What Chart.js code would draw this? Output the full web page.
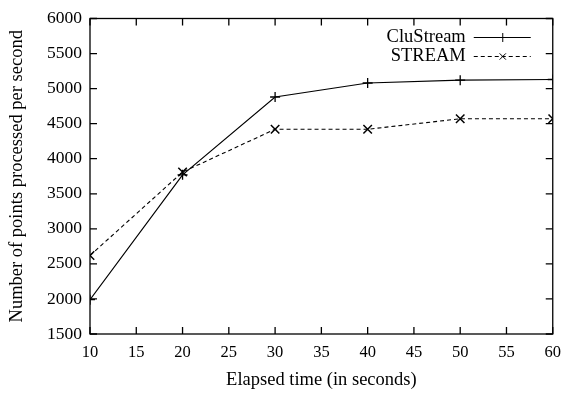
<!DOCTYPE html>
<html>
<head>
<meta charset="utf-8">
<script src="https://cdn.jsdelivr.net/npm/chart.js@4"></script>
<style>
  html, body { margin: 0; padding: 0; background: #fff; }
  #wrap { width: 570px; height: 394px; }
</style>
</head>
<body>
<div id="wrap"><canvas id="lineChart" width="570" height="394"></canvas></div>
<script>
const elapsed = [10, 20, 30, 40, 50, 60];
const cluStream = [1990, 3770, 4880, 5080, 5120, 5130];
const stream = [2620, 3810, 4420, 4420, 4570, 4570];
const seriesNames = ['CluStream', 'STREAM'];

const FONT = "'Liberation Serif', 'Times New Roman', serif";

// gnuplot style: inward ticks on all four sides + frame + key
const frameAndKey = {
    id: 'frameAndKey',
    afterDatasetsDraw(chart) {
        const { ctx, chartArea: a, scales } = chart;
        ctx.save();
        ctx.strokeStyle = '#000';
        ctx.lineWidth = 1.3;
        ctx.setLineDash([]);
        ctx.strokeRect(a.left, a.top, a.right - a.left, a.bottom - a.top);
        const tl = 7;
        scales.x.ticks.forEach(t => {
            const px = scales.x.getPixelForValue(t.value);
            ctx.beginPath();
            ctx.moveTo(px, a.bottom); ctx.lineTo(px, a.bottom - tl);
            ctx.moveTo(px, a.top); ctx.lineTo(px, a.top + tl);
            ctx.stroke();
        });
        scales.y.ticks.forEach(t => {
            const py = scales.y.getPixelForValue(t.value);
            ctx.beginPath();
            ctx.moveTo(a.left, py); ctx.lineTo(a.left + tl, py);
            ctx.moveTo(a.right, py); ctx.lineTo(a.right - tl, py);
            ctx.stroke();
        });

        // key
        ctx.font = '18.5px ' + FONT;
        ctx.fillStyle = '#000';
        ctx.textAlign = 'right';
        ctx.textBaseline = 'middle';
        const rows = [a.top + 19, a.top + 38];
        chart.data.datasets.forEach((ds, i) => {
            const y = rows[i];
            ctx.fillText(ds.label, a.right - 87, y);
            ctx.lineWidth = 1;
            ctx.setLineDash(ds.borderDash || []);
            ctx.beginPath();
            ctx.moveTo(a.right - 79, y); ctx.lineTo(a.right - 22, y);
            ctx.stroke();
            ctx.setLineDash([]);
            const mx = a.right - 50, r = 4.5;
            ctx.beginPath();
            if (ds.pointStyle === 'cross') {
                ctx.moveTo(mx, y - r); ctx.lineTo(mx, y + r);
                ctx.moveTo(mx - r, y); ctx.lineTo(mx + r, y);
            } else {
                ctx.moveTo(mx - r * 0.7, y - r * 0.7); ctx.lineTo(mx + r * 0.7, y + r * 0.7);
                ctx.moveTo(mx - r * 0.7, y + r * 0.7); ctx.lineTo(mx + r * 0.7, y - r * 0.7);
            }
            ctx.stroke();
        });
        ctx.restore();
    }
};

const ctx = document.getElementById('lineChart').getContext('2d');
const lineChart = new Chart(ctx, {
    type: 'line',
    data: {
        datasets: [{
            label: seriesNames[0],
            data: elapsed.map((x, i) => ({ x: x, y: cluStream[i] })),
            borderColor: '#000',
            borderWidth: 1.2,
            pointStyle: 'cross',
            pointRadius: 5,
            pointBorderColor: '#000',
            pointBorderWidth: 1.3,
            fill: false,
            tension: 0
        }, {
            label: seriesNames[1],
            data: elapsed.map((x, i) => ({ x: x, y: stream[i] })),
            borderColor: '#000',
            borderWidth: 1.1,
            borderDash: [4, 3],
            pointStyle: 'crossRot',
            pointRadius: 6,
            pointBorderColor: '#000',
            pointBorderWidth: 1.5,
            fill: false,
            tension: 0
        }]
    },
    options: {
        responsive: false,
        animation: false,
        layout: { padding: { top: 15, right: 8, left: 0, bottom: 0 } },
        plugins: {
            legend: { display: false },
            tooltip: { enabled: false }
        },
        scales: {
            x: {
                type: 'linear',
                min: 10,
                max: 60,
                grid: { display: false, drawTicks: false },
                border: { display: false },
                ticks: {
                    stepSize: 5,
                    color: '#000',
                    padding: 9,
                    font: { family: FONT, size: 16.5 },
                    callback: v => String(v)
                },
                title: {
                    display: true,
                    text: 'Elapsed time (in seconds)',
                    color: '#000',
                    padding: { top: 0, bottom: 3 },
                    font: { family: FONT, size: 18.5 }
                },
                afterFit(scale) { scale.height = 60; }
            },
            y: {
                min: 1500,
                max: 6000,
                grid: { display: false, drawTicks: false },
                border: { display: false },
                ticks: {
                    stepSize: 500,
                    color: '#000',
                    padding: 8,
                    font: { family: FONT, size: 17.5 },
                    callback: v => String(v)
                },
                title: {
                    display: true,
                    text: 'Number of points processed per second',
                    color: '#000',
                    padding: { top: 6, bottom: 0 },
                    font: { family: FONT, size: 18.5 }
                },
                afterFit(scale) { scale.width = 90; }
            }
        }
    },
    plugins: [frameAndKey]
});
</script>
</body>
</html>
